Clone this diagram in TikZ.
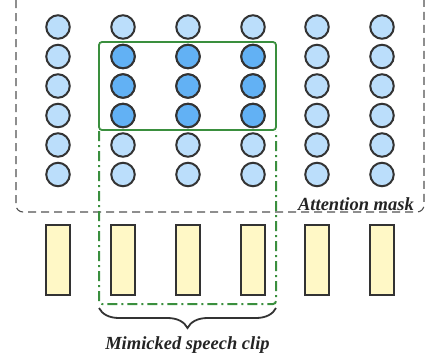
\documentclass[tikz,border=0pt]{standalone}
\usepackage{fontspec}
\setmainfont{Liberation Serif}
\usetikzlibrary{decorations.pathreplacing}
\definecolor{lightblue}{HTML}{BBDEFB}
\definecolor{darkblue}{HTML}{62B1F4}
\definecolor{strokegray}{HTML}{333333}
\definecolor{clipgreen}{HTML}{3A8F3E}
\definecolor{paleyellow}{HTML}{FFF8C6}
\tikzset{
  token/.style={circle, draw=strokegray, line width=2pt, minimum size=23.5pt, inner sep=0pt, fill=lightblue},
  active/.style={token, fill=darkblue},
  frame/.style={rectangle, draw=strokegray, line width=1.8pt, fill=paleyellow, minimum width=24pt, minimum height=70pt, inner sep=0pt},
  maskbox/.style={draw=strokegray!85, line width=1.1pt, dash pattern=on 8pt off 5pt, rounded corners=7pt},
  clipbox/.style={draw=clipgreen, line width=1.8pt, rounded corners=3pt},
  clipdash/.style={draw=clipgreen, line width=2pt, dash pattern=on 10pt off 4pt on 2pt off 4pt, rounded corners=3pt},
  lbl/.style={font=\fontsize{18.5}{21}\selectfont\bfseries\itshape, text=strokegray!70!black, inner sep=0pt},
  bracestyle/.style={draw=strokegray, line width=1.8pt, decorate, decoration={brace, mirror, amplitude=20pt, aspect=0.5}}
}
\begin{document}
\begin{tikzpicture}[x=1pt,y=-1pt]
\useasboundingbox (0,0) rectangle (425,362);
% attention mask box
\draw[maskbox] (16,-20) rectangle (424,212);
\node[lbl, anchor=base east] (att) at (414,210) {Attention mask};
% tokens
\foreach \i/\x in {1/58,2/123,3/188,4/253,5/317,6/382}{
  \foreach \j/\y in {1/27,2/56.5,3/86,4/115.5,5/145,6/174.5}{
    \node[token] (c-\i-\j) at (\x,\y) {};
  }
  \node[frame] (r-\i) at (\x,260) {};
}
\foreach \i in {2,3,4}{
  \foreach \j in {2,3,4}{
    \node[active] at (c-\i-\j) {};
  }
}
% clip boxes
\coordinate (g1) at (99,42);
\coordinate (g2) at (276,130);
\coordinate (g3) at (99,130);
\coordinate (g4) at (276,304);
\draw[clipbox] (g1) rectangle (g2);
\draw[clipdash] (99,131) -- (g3 |- g4) -- (g4) -- (276,131);
% brace
\coordinate (b1) at (99,308);
\coordinate (b2) at (276,308);
\draw[bracestyle] (b1) -- (b2);
\node[lbl, anchor=base] (mim) at (187.5,349) {Mimicked speech clip};
\end{tikzpicture}
\end{document}
